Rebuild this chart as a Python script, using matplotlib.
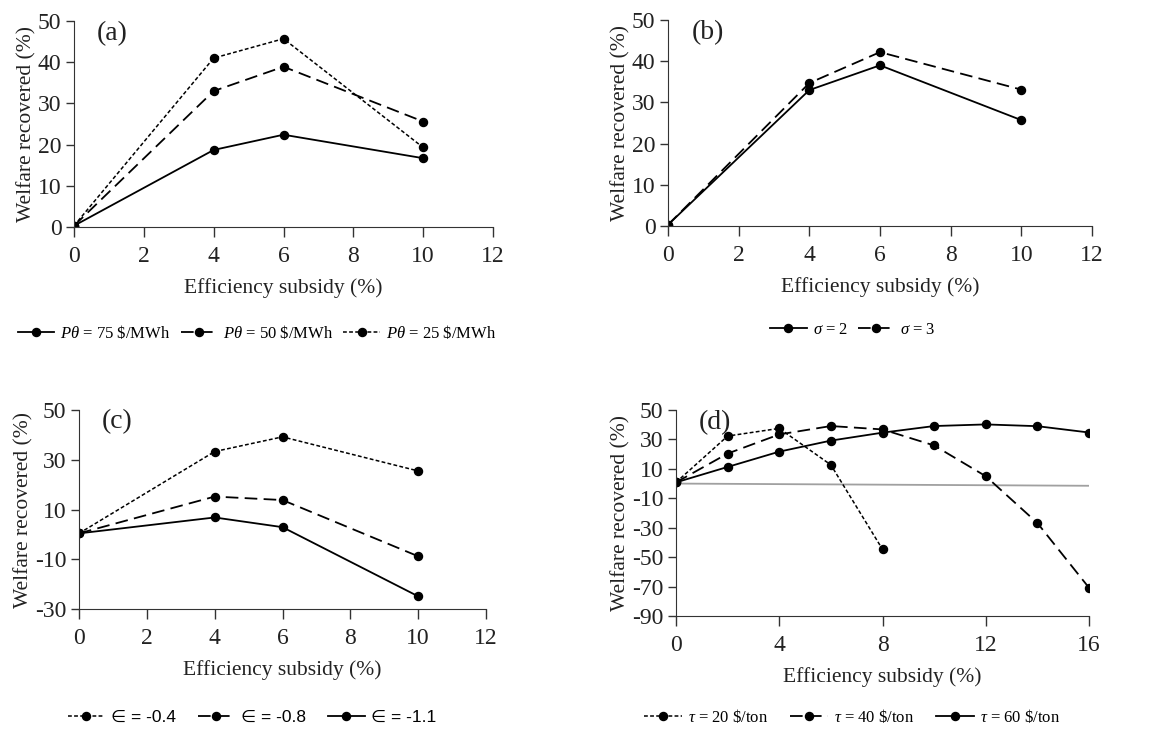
import numpy as np
import matplotlib
matplotlib.use("Agg")
import matplotlib.pyplot as plt

plt.rcParams['font.family'] = ['Liberation Serif', 'DejaVu Serif']
plt.rcParams['mathtext.fontset'] = 'custom'
plt.rcParams['mathtext.rm'] = 'Liberation Serif'
plt.rcParams['mathtext.it'] = 'Liberation Serif:italic'
plt.rcParams['axes.unicode_minus'] = False

# panel (a): electricity price
subsidy_a = [0, 4, 6, 10]
p75 = [0.3, 18.7, 22.4, 16.7]
p50 = [0.3, 33.0, 38.9, 25.6]
p25 = [0.3, 41.0, 45.7, 19.3]

# panel (b): sigma
subsidy_b = [0, 4, 6, 10]
sigma2 = [0.3, 33.0, 39.0, 25.7]
sigma3 = [0.3, 34.7, 42.2, 33.1]

# panel (c): elasticity
subsidy_c = [0, 4, 6, 10]
eps04 = [0.4, 33.3, 39.2, 25.5]
eps08 = [0.4, 15.2, 13.8, -8.8]
eps11 = [0.4, 6.8, 2.9, -24.9]

# panel (d): carbon tax
subsidy_d20 = [0, 2, 4, 6, 8]
tau20 = [0.8, 32.3, 37.5, 12.7, -44.7]
subsidy_d = [0, 2, 4, 6, 8, 10, 12, 14, 16]
tau40 = [0.8, 20.4, 33.4, 39.1, 36.8, 25.9, 5.0, -26.8, -70.8]
tau60 = [0.8, 11.3, 21.7, 29.2, 34.6, 39.1, 40.2, 39.0, 34.7]
zero_x = [0, 16]
zero_y = [0.0, -1.5]

solid = dict(color='black', lw=1.3, marker='o', ms=5.8, linestyle='-')
dashed = dict(color='black', lw=1.3, marker='o', ms=5.8, linestyle=(0, (7, 3.5)))
dotted = dict(color='black', lw=1.1, marker='o', ms=5.8, linestyle=(0, (2.5, 1.5)))

fig = plt.figure(figsize=(11.51, 7.31), dpi=100)
W, H = 1151, 731


def make_ax(l, r, t, b):
    ax = fig.add_axes([l / W, 1 - b / H, (r - l) / W, (b - t) / H])
    ax.spines['top'].set_visible(False)
    ax.spines['right'].set_visible(False)
    ax.spines['left'].set_color('#333333')
    ax.spines['bottom'].set_color('#333333')
    ax.tick_params(labelsize=17, width=1, color='#333333', labelcolor='#222222')
    ax.tick_params(axis='x', length=7, pad=7)
    ax.tick_params(axis='y', length=6, pad=3)
    ax.set_xlabel('Efficiency subsidy (%)', fontsize=15.5, color='#222222', labelpad=8)
    ax.set_ylabel('Welfare recovered (%)', fontsize=15.5, color='#222222', labelpad=1)
    return ax


def panel_letter(ax, s):
    ax.text(0.055, 0.94, s, transform=ax.transAxes, fontsize=20, va='center', ha='left', color='#222222')


def legend_at(ax, cx, cy, fs=12, sp=0.6, hl=2.2, prop=None):
    if prop is None:
        prop = {'size': fs}
    ax.legend(loc='center', bbox_to_anchor=(cx / W, 1 - cy / H), bbox_transform=fig.transFigure,
              ncol=3, frameon=False, prop=prop, handlelength=hl, handletextpad=0.35,
              columnspacing=sp, borderpad=0)


# (a)
ax = make_ax(74, 493, 21, 227)
ax.plot(subsidy_a, p75, label=r'$P\theta$ = 75 \$/MWh', **solid)
ax.plot(subsidy_a, p50, label=r'$P\theta$ = 50 \$/MWh', **dashed)
ax.plot(subsidy_a, p25, label=r'$P\theta$ = 25 \$/MWh', **dotted)
ax.set_xlim(0, 12)
ax.set_ylim(0, 50)
ax.set_xticks(range(0, 13, 2))
ax.set_yticks(range(0, 51, 10))
panel_letter(ax, '(a)')
legend_at(ax, 257, 333)

# (b)
ax = make_ax(668, 1092, 20, 226)
ax.plot(subsidy_b, sigma2, label=r'$\sigma$ = 2', **solid)
ax.plot(subsidy_b, sigma3, label=r'$\sigma$ = 3', **dashed)
ax.set_xlim(0, 12)
ax.set_ylim(0, 50)
ax.set_xticks(range(0, 13, 2))
ax.set_yticks(range(0, 51, 10))
panel_letter(ax, '(b)')
legend_at(ax, 853, 330)

# (c)
ax = make_ax(79, 486, 410, 609)
ax.plot(subsidy_c, eps04, label='∈ = -0.4', **dotted)
ax.plot(subsidy_c, eps08, label='∈ = -0.8', **dashed)
ax.plot(subsidy_c, eps11, label='∈ = -1.1', **solid)
ax.set_xlim(0, 12)
ax.set_ylim(-30, 50)
ax.set_xticks(range(0, 13, 2))
ax.set_yticks(range(-30, 51, 20))
panel_letter(ax, '(c)')
legend_at(ax, 252, 717, sp=1.3, hl=2.1,
          prop={'family': ['Liberation Sans', 'DejaVu Sans'], 'size': 12.5})

# (d)
ax = make_ax(676, 1089, 410, 616)
ax.plot(zero_x, zero_y, color='#a0a0a0', lw=1.3, zorder=1)
ax.plot(subsidy_d20, tau20, label=r'$\tau$ = 20 \$/ton', **dotted)
ax.plot(subsidy_d, tau40, label=r'$\tau$ = 40 \$/ton', **dashed)
ax.plot(subsidy_d, tau60, label=r'$\tau$ = 60 \$/ton', **solid)
ax.set_xlim(0, 16)
ax.set_ylim(-90, 50)
ax.set_xticks(range(0, 17, 4))
ax.set_yticks(range(-90, 51, 20))
panel_letter(ax, '(d)')
legend_at(ax, 852, 717, sp=1.3, hl=2.3)

fig.savefig('out.png', dpi=100)
